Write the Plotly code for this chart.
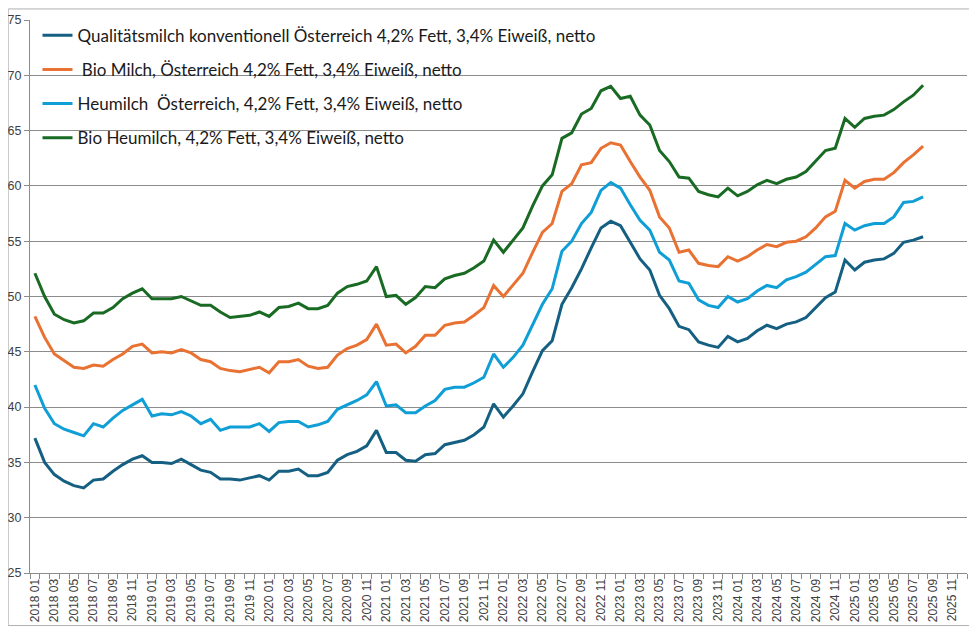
import plotly.graph_objects as go

months = [f"{y} {m:02d}" for y in range(2018, 2026) for m in range(1, 13)]

qualitaet = [37.2, 35.0, 33.9, 33.3, 32.9, 32.7, 33.4, 33.5, 34.2, 34.8, 35.3, 35.6,
             35.0, 35.0, 34.9, 35.3, 34.8, 34.3, 34.1, 33.5, 33.5, 33.4, 33.6, 33.8,
             33.4, 34.2, 34.2, 34.4, 33.8, 33.8, 34.1, 35.2, 35.7, 36.0, 36.5, 37.9,
             35.9, 35.9, 35.2, 35.1, 35.7, 35.8, 36.6, 36.8, 37.0, 37.5, 38.2, 40.3,
             39.1, 40.1, 41.2, 43.2, 45.1, 46.0, 49.3, 50.8, 52.5, 54.4, 56.2, 56.8,
             56.4, 54.9, 53.4, 52.4, 50.1, 48.9, 47.3, 47.0, 45.9, 45.6, 45.4, 46.4,
             45.9, 46.2, 46.9, 47.4, 47.1, 47.5, 47.7, 48.1, 49.0, 49.9, 50.4, 53.3,
             52.4, 53.1, 53.3, 53.4, 53.9, 54.9, 55.1, 55.4]

bio_milch = [48.2, 46.3, 44.8, 44.2, 43.6, 43.5, 43.8, 43.7, 44.3, 44.8, 45.5, 45.7,
             44.9, 45.0, 44.9, 45.2, 44.9, 44.3, 44.1, 43.5, 43.3, 43.2, 43.4, 43.6,
             43.1, 44.1, 44.1, 44.3, 43.7, 43.5, 43.6, 44.7, 45.3, 45.6, 46.1, 47.5,
             45.6, 45.7, 44.9, 45.5, 46.5, 46.5, 47.4, 47.6, 47.7, 48.3, 49.0, 51.0,
             50.0, 51.0, 52.1, 54.0, 55.8, 56.6, 59.5, 60.2, 61.9, 62.1, 63.4, 63.9,
             63.7, 62.2, 60.8, 59.6, 57.2, 56.2, 54.0, 54.2, 53.0, 52.8, 52.7, 53.6,
             53.2, 53.6, 54.2, 54.7, 54.5, 54.9, 55.0, 55.4, 56.2, 57.2, 57.7, 60.5,
             59.8, 60.4, 60.6, 60.6, 61.2, 62.1, 62.8, 63.6]

heumilch = [42.0, 39.9, 38.5, 38.0, 37.7, 37.4, 38.5, 38.2, 39.0, 39.7, 40.2, 40.7,
            39.2, 39.4, 39.3, 39.6, 39.2, 38.5, 38.9, 37.9, 38.2, 38.2, 38.2, 38.5,
            37.8, 38.6, 38.7, 38.7, 38.2, 38.4, 38.7, 39.8, 40.2, 40.6, 41.1, 42.3,
            40.1, 40.2, 39.5, 39.5, 40.1, 40.6, 41.6, 41.8, 41.8, 42.2, 42.7, 44.8,
            43.6, 44.5, 45.6, 47.5, 49.3, 50.7, 54.1, 55.0, 56.6, 57.6, 59.6, 60.3,
            59.8, 58.3, 56.9, 56.0, 54.0, 53.3, 51.4, 51.2, 49.7, 49.2, 49.0, 50.0,
            49.5, 49.8, 50.5, 51.0, 50.8, 51.5, 51.8, 52.2, 52.9, 53.6, 53.7, 56.6,
            56.0, 56.4, 56.6, 56.6, 57.2, 58.5, 58.6, 59.0]

bio_heumilch = [52.1, 50.0, 48.4, 47.9, 47.6, 47.8, 48.5, 48.5, 49.0, 49.8, 50.3, 50.7,
                49.8, 49.8, 49.8, 50.0, 49.6, 49.2, 49.2, 48.6, 48.1, 48.2, 48.3, 48.6,
                48.2, 49.0, 49.1, 49.4, 48.9, 48.9, 49.2, 50.3, 50.9, 51.1, 51.4, 52.7,
                50.0, 50.1, 49.3, 49.9, 50.9, 50.8, 51.6, 51.9, 52.1, 52.6, 53.2, 55.1,
                54.0, 55.1, 56.2, 58.2, 60.0, 61.0, 64.3, 64.8, 66.5, 67.0, 68.6, 69.0,
                67.9, 68.1, 66.4, 65.5, 63.2, 62.2, 60.8, 60.7, 59.5, 59.2, 59.0, 59.8,
                59.1, 59.5, 60.1, 60.5, 60.2, 60.6, 60.8, 61.3, 62.3, 63.2, 63.4, 66.1,
                65.3, 66.1, 66.3, 66.4, 66.9, 67.6, 68.2, 69.1]

series_names = [
    "Qualitätsmilch konventionell Österreich 4,2% Fett, 3,4% Eiweiß, netto",
    "\u00a0Bio Milch, Österreich 4,2% Fett, 3,4% Eiweiß, netto",
    "Heumilch\u00a0 Österreich, 4,2% Fett, 3,4% Eiweiß, netto",
    "Bio Heumilch, 4,2% Fett, 3,4% Eiweiß, netto",
]
series_values = [qualitaet, bio_milch, heumilch, bio_heumilch]
series_colors = ["#156082", "#E97132", "#0F9ED5", "#196B24"]

fig = go.Figure()
for i, (name, vals, col) in enumerate(zip(series_names, series_values, series_colors)):
    fig.add_trace(go.Scatter(
        x=list(range(len(vals))), y=vals, mode="lines", name=name,
        line=dict(color=col, width=3), legendgroup=f"g{i}",
    ))

tick_idx = list(range(0, len(months), 2))

fig.update_layout(
    width=969, height=625,
    margin=dict(l=22, r=10, t=12, b=60, autoexpand=False),
    paper_bgcolor="white", plot_bgcolor="white",
    font=dict(family="Liberation Sans, Arial, sans-serif", color="#404040"),
    showlegend=True,
    legend=dict(
        x=0.008, y=1.004, xanchor="left", yanchor="top",
        bgcolor="rgba(255,255,255,0)",
        font=dict(family="Lato, sans-serif", size=17, color="#1a1a1a"),
        tracegroupgap=9, itemwidth=30,
    ),
    xaxis=dict(
        range=[-0.5, len(months) - 0.5],
        tickmode="array", tickvals=tick_idx, ticktext=[months[i] for i in tick_idx],
        tickangle=-90, ticks="", showgrid=False, zeroline=False,
        showline=True, linecolor="#8c8c8c", linewidth=1,
        tickfont=dict(size=12, color="#404040"),
        minor=dict(ticks="outside", tick0=-0.5, dtick=1, ticklen=5,
                   tickcolor="#8c8c8c", showgrid=False),
    ),
    yaxis=dict(
        range=[25, 75], dtick=5, tick0=25,
        showgrid=True, gridcolor="#8c8c8c", gridwidth=1,
        zeroline=False, showline=True, linecolor="#8c8c8c", linewidth=1,
        ticks="outside", ticklen=5, tickcolor="#8c8c8c",
        tickfont=dict(size=12.5, color="#404040"),
    ),
)

# chart outer border
fig.add_shape(type="rect", xref="paper", yref="paper",
              x0=-0.0233, x1=1.0075, y0=-0.095, y1=1.02,
              line=dict(color="#b0b0b0", width=1), fillcolor="rgba(0,0,0,0)", layer="below")

fig.write_html("out.html")
